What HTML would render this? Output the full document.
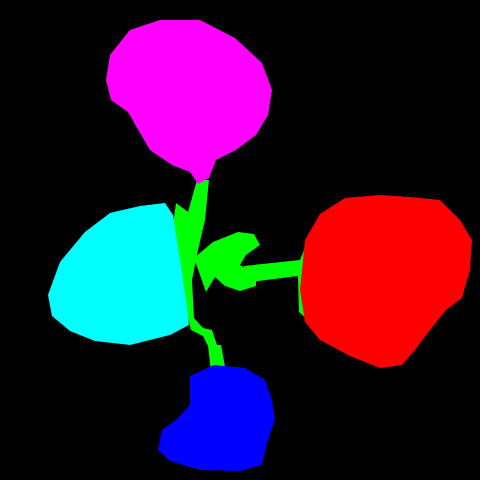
<!DOCTYPE html>
<html><head><meta charset="utf-8"><style>
html,body{margin:0;padding:0;background:#000;width:480px;height:480px;overflow:hidden}
svg{display:block}
</style></head><body>
<svg width="480" height="480" viewBox="0 0 480 480">
<rect width="480" height="480" fill="#000"/>
<polygon fill="#00ff00" points="197,180 209,180 205,220 198,250 192,280 194,318 203,328 212,330 218,348 210,350 203,336 191,330 184,300 178,260 173,225 176,203 188,212"/>
<polygon fill="#00ff00" points="194,258 213,242 238,232 254,234 260,245 246,255 240,265 256,274 256,286 240,291 225,286 215,277 206,292 199,272"/>
<polygon fill="#00ff00" points="244,266 300,260 308,240 310,322 299,312 298,276 250,282"/>
<polygon fill="#00ff00" points="208,345 221,345 226,372 211,372"/>
<polygon fill="#ff00ff" points="130,30 160,20 200,20 235,38 262,63 272,90 268,115 256,135 236,150 216,160 209,178 198,184 190,172 172,165 150,150 136,126 128,112 111,100 106,80 110,55"/>
<polygon fill="#00ffff" points="48,295 60,262 85,232 110,213 140,206 165,203 173,215 180,260 186,300 189,325 170,335 130,345 95,341 70,331 52,316"/>
<polygon fill="#ff0000" points="305,240 320,214 345,198 380,195 410,197 440,200 460,220 472,240 470,270 462,298 446,310 430,330 415,350 402,365 380,368 350,356 320,340 305,322 300,290"/>
<polygon fill="#0000ff" points="190,376 214,365 245,368 265,380 272,400 275,420 268,440 262,465 240,471 200,470 170,461 158,450 162,430 176,420 190,405"/>
</svg>
</body></html>
